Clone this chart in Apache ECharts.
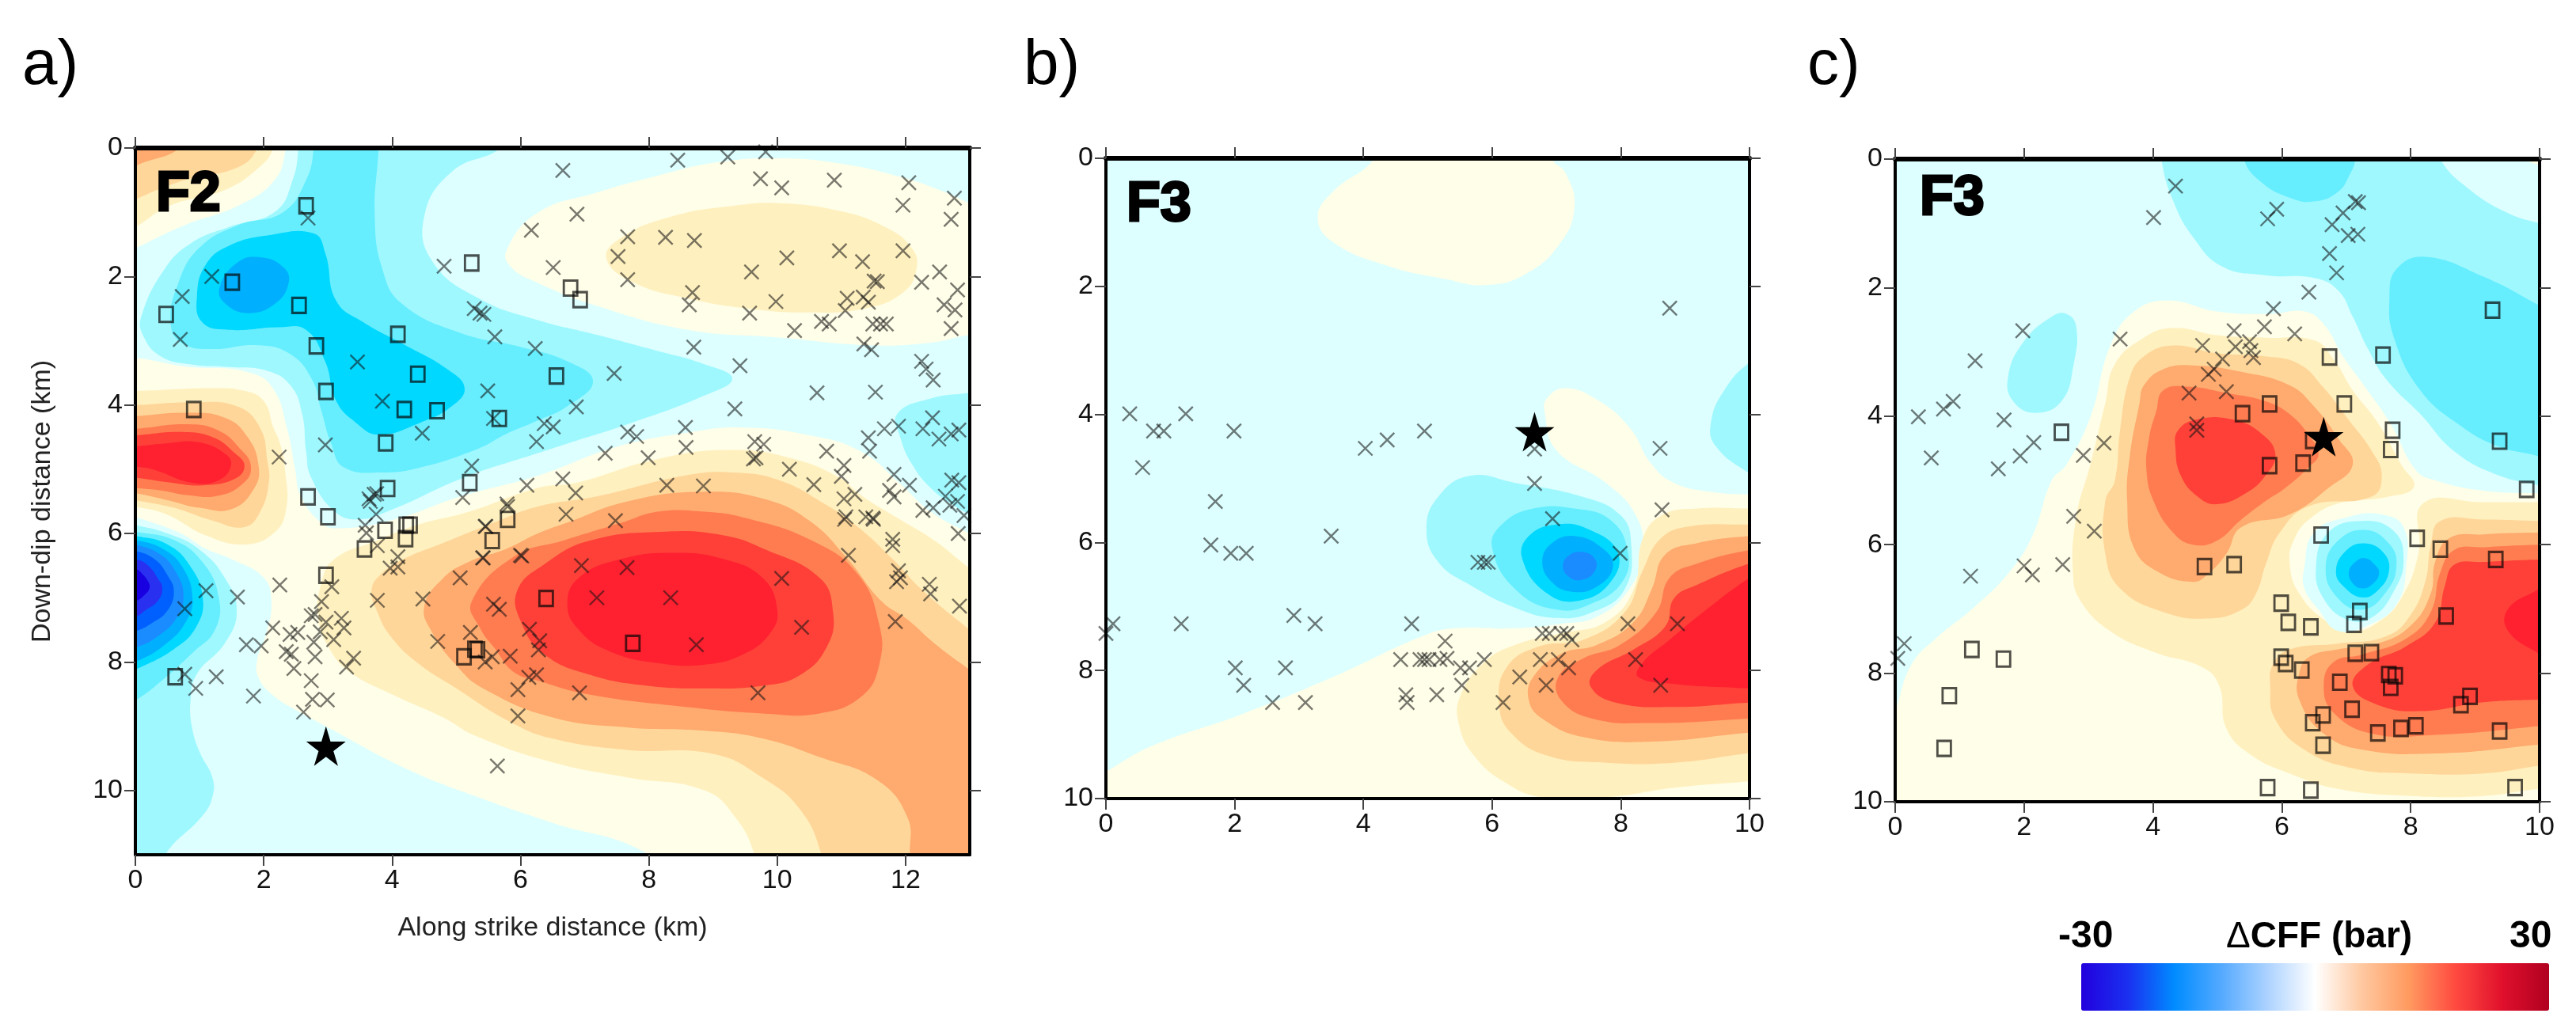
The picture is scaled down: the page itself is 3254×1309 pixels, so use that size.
<!DOCTYPE html>
<html>
<head>
<meta charset="utf-8">
<title>CFF</title>
<script src="https://cdn.jsdelivr.net/npm/echarts@6/dist/echarts.min.js"></script>
<style>
html, body { margin: 0; padding: 0; background: #fff; }
#main { width: 3254px; height: 1309px; }
</style>
</head>
<body>
<div id="main"></div>
<script>
// contour band colours, keyed by band number (negative = stress shadow)
var bandColors = {
    '-2': '#a0f8ff', '-3': '#66eeff', '-4': '#00d8ff', '-5': '#00b0ff',
    '-6': '#1a8cff', '-7': '#0060ff', '-8': '#2a30f0', '-9': '#1800e0',
    '1': '#fffee8', '2': '#fff0bf', '3': '#ffd699', '4': '#ffaa6e',
    '5': '#ff7c50', '6': '#ff4038', '7': '#ff2030'
};

// contours: [band, [[km along strike, km down dip], ...]]
var contoursA = [
    [1, [[-.4,3.45],[1,3.42],[1.8,3.5],[2.15,3.75],[2.36,4.35],[2.49,5],[2.57,5.4],[2.88,5.82],[3.15,5.92],[3.97,5.8],[5.08,5.42],[6.27,5.1],[7.5,4.65],[8.6,4.43],[9.46,4.35],[10.5,4.47],[11.3,4.72],[11.9,5.21],[12.39,5.66],[13,6],[13.4,6.2],[13.4,11.4],[8.2,11.4],[7.92,10.95],[6.49,10.5],[5.3,10.09],[4.2,9.65],[2.93,8.98],[2.49,8.74],[2.16,8.53],[1.92,8.25],[1.9,7.96],[2.04,7.55],[2.12,7.06],[2,6.69],[1.5,6.4],[1.1,6.24],[.69,5.99],[0,5.74],[-.4,5.6]]],
    [1, [[5.78,1.6],[6.25,1.02],[7.2,.69],[8.14,.43],[9.08,.22],[10.03,.16],[10.97,.24],[11.92,.45],[12.62,.69],[13,.86],[13.4,1],[13.4,2.9],[13,2.91],[12.39,3.03],[11.44,3.07],[10.03,2.95],[8.61,2.83],[7.2,2.46],[6.25,2.09],[5.85,1.85]]],
    [1, [[-.4,-.4],[2.4,-.4],[2.35,0],[2.17,.5],[1.6,.9],[.77,1.2],[0,1.56],[-.4,1.75]]],
    [2, [[-.4,-.4],[2.2,-.4],[2.15,0],[1.93,.3],[1.4,.65],[.53,.9],[0,1.23],[-.4,1.4]]],
    [3, [[-.4,-.4],[1.95,-.4],[1.9,0],[1.6,.3],[.77,.5],[0,.8],[-.4,1]]],
    [4, [[-.4,-.4],[.9,-.4],[.69,0],[.05,.26],[-.4,.5]]],
    [2, [[7.34,1.72],[7.58,1.39],[8.38,1.06],[9.32,.9],[10.03,.86],[10.97,.98],[11.68,1.23],[12.1,1.56],[12.17,1.88],[11.96,2.25],[11.35,2.5],[10.5,2.56],[9.56,2.5],[8.61,2.34],[7.76,2.09]]],
    [2, [[2.85,7.3],[2.9,6.77],[3.1,6.4],[3.77,6.11],[4.38,5.87],[5.2,5.66],[6.27,5.29],[6.87,5.21],[8.14,4.84],[9.32,4.7],[10.26,4.84],[10.97,5.13],[11.3,5.4],[11.86,5.75],[12.45,6.11],[13,6.54],[13.4,6.8],[13.4,11.4],[9.7,11.4],[9.65,11],[9.35,10.42],[8.87,10],[7.68,9.8],[6.49,9.56],[5.3,9.15],[4.79,8.86],[3.97,8.49],[3.35,8.16],[3.03,7.8]]],
    [3, [[3.68,6.89],[3.81,6.65],[4.18,6.4],[4.79,6.15],[5.61,5.82],[6.27,5.58],[7.2,5.42],[8.6,5.09],[9.32,5.05],[10.03,5.17],[10.74,5.54],[11.26,5.9],[11.8,6.4],[12.27,6.89],[13,7.5],[13.4,7.8],[13.4,11.4],[10.7,11.4],[10.69,11],[10.36,10.3],[9.77,9.8],[9,9.43],[7.68,9.37],[6.49,9.19],[5.82,8.92],[5,8.41],[4.38,8],[3.97,7.59],[3.77,7.22]]],
    [4, [[4.5,7.14],[4.79,6.7],[5.2,6.44],[5.78,6.24],[6.27,6],[6.73,5.83],[7.67,5.5],[8.85,5.35],[9.79,5.46],[10.5,5.8],[11.1,6.4],[11.62,7.05],[12.03,7.34],[12.45,7.71],[13,8.12],[13.4,8.4],[13.4,11.4],[12.1,11.4],[12.07,11],[12.03,10.42],[11.56,9.84],[10.66,9.48],[9.77,9.19],[8.87,9.07],[7.68,9.02],[6.49,8.86],[5.4,8.4],[5,8.05],[4.63,7.55]]],
    [5, [[5.24,7.06],[5.37,7.47],[5.61,7.8],[5.89,8.15],[6.27,8.29],[7.09,8.51],[8.58,8.7],[9.77,8.8],[10.66,8.8],[11.32,8.53],[11.59,8.04],[11.59,7.42],[11.26,6.64],[10.54,6.11],[9.47,5.75],[8.85,5.66],[8.14,5.66],[7.58,5.83],[6.7,6.1],[5.9,6.36]]],
    [6, [[5.95,6.89],[6.37,6.48],[7.08,6.11],[8.28,5.97],[9.17,6.03],[9.77,6.23],[10.66,6.69],[10.87,7.22],[10.78,7.75],[10.36,8.2],[9.77,8.37],[8.87,8.41],[7.98,8.37],[7.09,8.2],[6.37,7.88],[6.01,7.38]]],
    [7, [[6.73,7.1],[6.91,6.69],[7.56,6.4],[8.4,6.3],[9.17,6.4],[9.77,6.69],[10,7.18],[9.89,7.55],[9.47,7.88],[8.87,8.04],[8.16,8.02],[7.38,7.83],[6.91,7.5]]],
    [2, [[-.4,3.75],[0,3.78],[1.16,3.74],[1.7,3.78],[2,3.94],[2.15,4.35],[2.25,4.59],[2.33,5],[2.35,5.62],[2.16,5.99],[1.71,6.17],[1.1,6.03],[.48,5.7],[0,5.58],[-.4,5.5]]],
    [3, [[-.4,4],[0,4],[.87,3.96],[1.58,4.02],[1.94,4.35],[2.06,4.89],[2.08,5.2],[1.95,5.65],[1.7,5.9],[1.2,5.8],[.6,5.6],[0,5.48],[-.4,5.4]]],
    [4, [[-.4,4.17],[0,4.17],[.8,4.12],[1.4,4.2],[1.75,4.5],[1.92,4.95],[1.85,5.3],[1.5,5.62],[1,5.6],[.5,5.48],[0,5.37],[-.4,5.3]]],
    [5, [[-.4,4.37],[0,4.37],[.8,4.3],[1.3,4.4],[1.65,4.7],[1.8,4.95],[1.7,5.2],[1.3,5.41],[.8,5.4],[.4,5.33],[0,5.29],[-.4,5.25]]],
    [6, [[-.4,4.47],[0,4.47],[.7,4.42],[1.2,4.5],[1.55,4.75],[1.7,4.95],[1.55,5.15],[1.05,5.25],[.5,5.2],[0,5.13],[-.4,5.1]]],
    [7, [[-.4,4.64],[0,4.64],[.45,4.6],[.98,4.58],[1.4,4.76],[1.49,4.94],[1.3,5.17],[.89,5.21],[.27,5],[0,4.96],[-.4,4.93]]],
    [-2, [[2.54,-.4],[2.54,0],[2.45,.5],[2.18,.99],[1.46,1.23],[.87,1.48],[.45,1.89],[.09,2.63],[.12,2.92],[.39,3.24],[.87,3.37],[1.46,3.41],[2.06,3.47],[2.42,3.7],[2.6,4.15],[2.66,4.72],[2.74,5.13],[3.11,5.66],[3.48,5.78],[3.97,5.64],[5.12,5.13],[6.27,4.75],[6.73,4.6],[7.67,4.3],[8.85,3.86],[9.3,3.59],[8.85,3.36],[8.14,3.16],[7.2,2.91],[6.24,2.67],[5.35,2.34],[4.63,1.77],[4.5,1.07],[4.93,.37],[5.7,0],[6,-.4]]],
    [-2, [[13.4,3.75],[13,3.81],[12.39,3.9],[11.87,4.14],[11.92,4.51],[12.1,4.92],[12.39,5.29],[12.72,5.54],[13,5.7],[13.4,5.85]]],
    [-2, [[-.4,5.8],[0,5.87],[.5,6],[1,6.25],[1.4,6.7],[1.58,7.2],[1.4,7.7],[.95,8.2],[.86,8.6],[.88,9],[1,9.4],[1.2,9.8],[1.2,10.1],[1.04,10.4],[.49,10.96],[.3,11.4],[-.4,11.4]]],
    [-3, [[2.78,-.4],[2.78,0],[2.66,.5],[2.3,1],[1.6,1.2],[1,1.55],[.67,2.1],[.55,2.75],[.75,3.05],[1.2,3.13],[1.9,3.07],[2.4,3.2],[2.75,3.6],[2.9,4.1],[3.05,4.6],[3.25,4.97],[3.85,5.05],[4.45,4.97],[5.34,4.68],[5.78,4.45],[6.25,4.25],[6.73,4.02],[7.13,3.63],[6.73,3.32],[6.02,3.1],[5.04,2.87],[4.15,2.42],[3.85,1.89],[3.73,1.07],[3.79,0],[3.8,-.4]]],
    [-4, [[.96,2.3],[1.04,2.71],[1.46,2.83],[2.24,2.79],[2.66,2.83],[2.96,3.33],[3.13,3.94],[3.43,4.27],[3.79,4.46],[4.45,4.27],[4.93,4.02],[5.13,3.74],[4.87,3.45],[4.15,3.04],[3.55,2.71],[3.13,2.38],[2.96,1.64],[2.78,1.33],[2.06,1.36],[1.46,1.52],[1.1,1.81]]],
    [-5, [[1.31,2.18],[1.4,2.42],[1.76,2.57],[2.18,2.42],[2.39,2.09],[2.3,1.85],[1.94,1.7],[1.58,1.79]]],
    [-3, [[-.4,5.9],[0,5.97],[.6,6.1],[1.05,6.45],[1.3,7],[1.24,7.5],[.9,7.85],[.4,8.3],[0,8.6],[-.4,8.8]]],
    [-4, [[-.4,6],[0,6.04],[.5,6.17],[.85,6.5],[1.05,7],[.95,7.45],[.6,7.8],[0,8.12],[-.4,8.3]]],
    [-5, [[-.4,6.05],[0,6.1],[.45,6.25],[.75,6.55],[.89,7],[.8,7.35],[.5,7.7],[0,8],[-.4,8.1]]],
    [-6, [[-.4,6.1],[0,6.17],[.4,6.33],[.63,6.6],[.75,6.95],[.65,7.3],[.35,7.6],[0,7.78],[-.4,7.9]]],
    [-7, [[-.4,6.2],[0,6.27],[.3,6.4],[.5,6.65],[.6,6.9],[.5,7.2],[.25,7.4],[0,7.52],[-.4,7.6]]],
    [-8, [[-.4,6.35],[0,6.4],[.2,6.5],[.35,6.7],[.42,6.85],[.35,7.05],[.15,7.2],[0,7.3],[-.4,7.4]]],
    [-9, [[-.4,6.5],[0,6.55],[.1,6.62],[.2,6.75],[.22,6.85],[.15,6.95],[0,7.05],[-.4,7.1]]]
];

var contoursB = [
    [1, [[4.17,-.4],[4.17,0],[3.53,.52],[3.29,.92],[3.53,1.31],[4.38,1.68],[5.3,1.89],[5.87,1.98],[6.5,1.82],[7.07,1.31],[7.28,.74],[7.14,.23],[6.93,0],[6.9,-.4]]],
    [1, [[-.4,9.8],[0,9.58],[.71,9.18],[2.12,8.68],[3.53,8.1],[4.95,7.45],[5.44,7.34],[6.36,7.34],[7.07,7.27],[7.63,7.16],[8.13,6.73],[8.34,6.15],[8.23,5.57],[7.77,5.07],[7,4.56],[6.82,3.99],[6.85,3.75],[7.14,3.59],[7.63,3.77],[8.13,4.2],[8.48,4.78],[8.83,5.07],[9.4,5.21],[10,5.25],[10.4,5.25],[10.4,10.4],[-.4,10.4]]],
    [2, [[10.4,5.47],[10,5.47],[9.19,5.47],[8.65,5.57],[8.34,5.94],[8.2,6.73],[7.77,7.24],[7.07,7.42],[6.36,7.6],[5.87,7.88],[5.51,8.39],[5.48,8.82],[5.72,9.33],[6.22,9.76],[6.78,9.98],[7.77,9.98],[8.83,9.83],[10,9.73],[10.4,9.7]]],
    [3, [[10.4,5.72],[10,5.72],[9.05,5.75],[8.62,5.94],[8.34,6.44],[8.06,7.09],[7.42,7.52],[6.71,7.63],[6.22,7.96],[6.11,8.53],[6.29,8.97],[6.86,9.33],[7.77,9.44],[8.83,9.44],[10,9.29],[10.4,9.25]]],
    [4, [[10.4,5.9],[10,5.9],[9.19,6.01],[8.69,6.19],[8.48,6.73],[8.2,7.24],[7.63,7.6],[7.07,7.74],[6.64,8.1],[6.57,8.46],[6.78,8.75],[7.42,9.04],[8.48,9.11],[10,8.97],[10.4,8.95]]],
    [5, [[10.4,6.1],[10,6.12],[9.19,6.33],[8.76,6.55],[8.55,7.09],[7.99,7.6],[7.42,7.81],[7.03,8.1],[7.07,8.46],[7.56,8.75],[8.48,8.82],[10,8.75],[10.4,8.73]]],
    [6, [[10.4,6.25],[10,6.33],[9.19,6.66],[8.83,6.87],[8.69,7.31],[8.2,7.67],[7.63,7.99],[7.53,8.25],[7.92,8.5],[8.83,8.57],[10,8.5],[10.4,8.5]]],
    [7, [[10.4,6.35],[10,6.55],[9.19,7.16],[8.76,7.52],[8.34,7.88],[8.27,8.1],[8.83,8.21],[10,8.28],[10.4,8.3]]],
    [-2, [[10.4,3],[10,3.19],[9.61,3.62],[9.4,4.13],[9.47,4.49],[10,4.92],[10.4,5.1]]],
    [-2, [[4.98,5.79],[5.16,5.29],[5.65,4.96],[6.36,5.07],[7.42,5.29],[7.99,5.57],[8.16,6],[8.06,6.73],[7.56,7.09],[7,7.18],[6.36,7.02],[5.65,6.66],[5.16,6.3]]],
    [-3, [[6,6.08],[6.15,5.72],[6.64,5.47],[7.28,5.47],[7.84,5.65],[8.11,6.15],[8.02,6.62],[7.56,6.95],[7,7.05],[6.36,6.73]]],
    [-4, [[6.47,6.26],[6.57,5.9],[7,5.72],[7.49,5.79],[7.95,6.15],[7.84,6.62],[7.35,6.91],[6.86,6.8]]],
    [-5, [[6.78,6.3],[6.93,6.01],[7.28,5.9],[7.7,6.08],[7.88,6.37],[7.63,6.69],[7.24,6.77],[6.93,6.62]]],
    [-6, [[7.1,6.37],[7.21,6.19],[7.42,6.15],[7.6,6.26],[7.6,6.44],[7.42,6.58],[7.21,6.55]]]
];

var contoursC = [
    [1, [[9.7,-.4],[9.81,0],[10,.1],[10.4,.3],[10.4,-.4]]],
    [1, [[4.24,2.2],[4.99,2.37],[5.82,2.41],[6.35,2.37],[6.65,2.57],[6.95,3.07],[7.33,3.6],[7.7,4.14],[8.08,4.84],[8.38,5],[9.13,5.16],[10,5.2],[10.4,5.2],[10.4,10.4],[-.4,10.4],[-.4,8.8],[0,8.6],[.02,8.53],[.25,7.87],[.63,7.46],[1.23,6.97],[1.77,6.43],[2.13,5.86],[2.43,5],[2.66,4.75],[3.03,4.01],[3.34,2.9],[3.71,2.37]]],
    [2, [[3.86,2.78],[4.31,2.63],[4.99,2.74],[5.75,2.78],[6.5,2.82],[6.8,3.11],[7.1,3.6],[7.48,4.09],[7.85,4.75],[8.05,5.1],[7.63,5.26],[6.87,5.36],[6.42,5.61],[6.2,5.9],[6.12,6.27],[6.27,6.76],[6.72,7.21],[7.1,7.35],[7.5,7.2],[7.85,6.84],[8.12,6.14],[8.19,5.36],[9.13,5.34],[10,5.34],[10.4,5.34],[10.4,9.8],[10,9.8],[9.13,9.91],[8,9.91],[6.87,9.8],[6.12,9.56],[5.52,9.27],[5.14,8.86],[5.03,8.2],[4.77,7.91],[4.01,7.67],[3.33,7.34],[2.88,6.88],[2.76,6.47],[2.81,5.57],[3.03,4.75],[3.26,3.8],[3.41,3.19]]],
    [3, [[3.86,3.07],[4.31,2.9],[4.99,3.02],[5.75,3.07],[6.27,3.19],[6.65,3.56],[7.03,4.05],[7.4,4.55],[7.55,4.92],[7.4,5.25],[6.42,5.4],[5.97,5.81],[5.75,6.31],[5.6,6.76],[5.38,7.01],[4.85,7.15],[4.17,7.05],[3.49,6.68],[3.26,6.14],[3.26,5.32],[3.41,5],[3.49,4.22],[3.64,3.4]]],
    [4, [[4.16,3.27],[4.62,3.21],[5.37,3.31],[6.12,3.52],[6.5,3.85],[6.87,4.34],[7.1,4.75],[6.72,5.12],[6.12,5.53],[5.37,5.73],[5.14,6.14],[4.84,6.47],[4.62,6.58],[4.09,6.43],[3.71,6.06],[3.6,5.32],[3.64,4.63],[3.79,3.81],[3.86,3.52]]],
    [5, [[4.05,3.93],[4.16,3.6],[4.54,3.54],[5.14,3.64],[5.75,3.77],[6.12,3.97],[6.42,4.3],[6.57,4.59],[6.42,4.79],[6.05,5.12],[5.75,5.32],[5.37,5.61],[4.99,5.94],[4.62,6],[4.31,5.81],[4.01,5.32],[3.9,4.84],[3.94,4.34]]],
    [6, [[4.39,4.22],[4.69,4.05],[5.22,4.05],[5.67,4.26],[5.9,4.59],[5.75,4.92],[5.44,5.2],[4.99,5.37],[4.69,5.25],[4.43,4.92],[4.35,4.5]]],
    [3, [[10.4,5.63],[10,5.63],[9.13,5.61],[8.46,5.63],[8.31,6.02],[8.23,6.56],[8,7.09],[7.63,7.42],[6.87,7.54],[6.12,7.63],[5.86,7.87],[5.82,8.2],[5.89,8.7],[6.35,9.19],[7.1,9.48],[8,9.56],[9.13,9.56],[10,9.44],[10.4,9.4]]],
    [4, [[10.4,5.81],[10,5.81],[9.13,5.84],[8.6,5.9],[8.38,6.27],[8.31,6.76],[8,7.26],[7.48,7.54],[6.87,7.63],[6.42,7.75],[6.27,8],[6.27,8.41],[6.65,8.94],[7.25,9.19],[8.38,9.25],[10,9.11],[10.4,9.05]]],
    [5, [[10.4,6],[10,6],[9.13,6.04],[8.68,6.08],[8.46,6.43],[8.31,7.05],[7.93,7.46],[7.25,7.71],[6.8,7.83],[6.65,8.2],[6.8,8.61],[7.4,8.94],[8.38,8.96],[10,8.82],[10.4,8.75]]],
    [6, [[10.4,6.23],[10,6.23],[9.13,6.27],[8.68,6.31],[8.53,6.64],[8.38,7.21],[7.93,7.58],[7.33,7.87],[7.1,8.2],[7.48,8.49],[8.15,8.59],[9.13,8.45],[10,8.41],[10.4,8.4]]],
    [7, [[10.4,6.4],[10,6.68],[9.51,7],[9.51,7.34],[10,7.7],[10.4,7.9]]],
    [-1, [[6.35,6.35],[6.5,5.81],[7.03,5.57],[7.55,5.53],[7.89,5.73],[7.93,6.35],[7.78,6.93],[7.33,7.26],[6.87,7.34],[6.57,7.01],[6.35,6.68]]],
    [-2, [[4.13,-.4],[4.13,0],[4.31,.64],[4.62,1.21],[5.07,1.67],[5.75,1.81],[6.5,1.85],[6.87,2.04],[7.1,2.45],[7.33,2.94],[7.63,3.44],[8.15,3.97],[8.68,4.55],[9.36,4.92],[10,5.08],[10.4,5.2],[10.4,1.1],[10,1],[9.51,.84],[8.91,.47],[8.46,0],[8.4,-.4]]],
    [-2, [[2.66,2.41],[2.43,2.45],[1.98,2.86],[1.75,3.4],[1.83,3.77],[2.17,3.95],[2.58,3.77],[2.77,3.19],[2.81,2.61]]],
    [-2, [[6.53,6.35],[6.72,5.81],[7.25,5.63],[7.74,5.79],[7.89,6.23],[7.74,6.72],[7.4,7.13],[7.03,7.17],[6.65,6.84]]],
    [-3, [[5.41,-.4],[5.41,0],[5.67,.35],[6.12,.6],[6.5,.66],[6.87,.51],[7.06,.23],[7.14,0],[7.14,-.4]]],
    [-3, [[8.23,1.52],[7.78,1.71],[7.67,2.16],[7.74,2.78],[8.15,3.6],[8.76,4.14],[9.36,4.47],[10,4.63],[10.4,4.8],[10.4,2.5],[10,2.28],[9.13,1.83]]],
    [-3, [[6.68,6.35],[6.87,5.94],[7.29,5.77],[7.66,5.98],[7.78,6.31],[7.63,6.72],[7.25,7.01],[6.84,6.8]]],
    [-4, [[6.84,6.43],[6.99,6.1],[7.29,5.98],[7.59,6.14],[7.66,6.43],[7.48,6.72],[7.25,6.82],[6.99,6.68]]],
    [-5, [[7.04,6.43],[7.14,6.27],[7.29,6.21],[7.44,6.31],[7.51,6.45],[7.4,6.62],[7.25,6.68],[7.1,6.6]]]
];

// aftershock positions, [km along strike, km down dip]
var crossesA = [[6.66,.35],[8.45,.19],[9.23,.14],[9.82,.06],[9.74,.48],[10.07,.62],[10.89,.5],[12.05,.54],[12.76,.78],[11.96,.89],[12.71,1.11],[6.88,1.03],[6.17,1.28],[7.67,1.38],[8.26,1.39],[8.71,1.44],[7.52,1.69],[6.51,1.86],[7.67,2.05],[10.15,1.71],[10.97,1.6],[11.33,1.77],[11.96,1.6],[9.6,1.93],[12.53,1.93],[12.25,2.09],[11.51,2.07],[11.56,2.08],[12.81,2.21],[8.68,2.25],[8.63,2.44],[9.98,2.39],[11.09,2.34],[11.34,2.32],[11.42,2.4],[11.06,2.53],[9.57,2.57],[10.69,2.7],[10.81,2.74],[10.27,2.84],[11.49,2.74],[11.61,2.74],[11.7,2.74],[12.6,2.44],[12.77,2.52],[12.71,2.81],[11.35,3.05],[11.47,3.14],[8.7,3.1],[6.23,3.12],[9.42,3.39],[12.25,3.32],[12.32,3.44],[12.43,3.61],[7.46,3.51],[10.62,3.81],[11.53,3.8],[6.87,4.03],[9.34,4.06],[6.37,4.29],[6.51,4.34],[6.25,4.57],[8.57,4.35],[7.67,4.42],[7.81,4.49],[7.32,4.75],[7.99,4.82],[8.58,4.66],[9.65,4.57],[9.79,4.61],[9.67,4.82],[9.63,4.84],[10.77,4.72],[10.19,5],[10.57,5.24],[11.04,4.94],[11,5.11],[11.21,5.39],[11.04,5.46],[11.42,4.51],[11.44,4.72],[11.67,4.37],[11.89,4.33],[12.27,4.37],[12.42,4.2],[12.52,4.53],[12.71,4.45],[12.83,4.39],[11.82,5.08],[12.06,5.25],[11.75,5.33],[11.82,5.43],[12.62,5.42],[12.72,5.17],[12.83,5.21],[12.27,5.64],[12.43,5.6],[12.69,5.56],[12.81,5.5],[12.91,5.72],[11.07,5.74],[11.49,5.76],[6.1,5.25],[6.66,5.15],[6.86,5.37],[8.28,5.25],[8.85,5.26],[6.71,5.7],[7.48,5.8],[5.46,5.89],[6.02,6.35],[5.42,6.38],[6.95,6.5],[7.66,6.53],[7.19,7],[8.34,7],[10.07,6.7],[10.38,7.46],[8.74,7.73],[5.58,7.1],[5.67,7.18],[6.14,7.49],[6.3,7.67],[6.28,7.81],[5.84,7.91],[5.56,7.92],[5.45,8],[6.13,8.24],[6.25,8.2],[5.96,8.43],[6.92,8.48],[9.7,8.48],[5.96,8.84],[5.64,9.62],[11.05,5.78],[11.38,5.74],[11.5,5.78],[11.11,6.34],[11.8,6.09],[11.8,6.19],[11.89,6.58],[11.92,6.69],[11.86,6.75],[12.37,6.79],[12.39,6.94],[12.84,7.13],[11.84,7.37],[12.82,6],[2.69,1.09],[1.19,2],[.73,2.31],[.7,2.98],[3.46,3.33],[3.85,3.94],[2.96,4.62],[2.24,4.81],[4.47,4.44],[5.49,3.78],[5.58,4.21],[4.81,1.84],[5.28,2.5],[5.37,2.57],[5.43,2.59],[5.6,2.94],[5.24,4.95],[5.1,5.44],[3.64,5.46],[5.79,5.54],[3.76,5.38],[3.72,5.39],[3.66,5.5],[3.75,5.7],[3.58,5.87],[3.6,5.99],[3.77,6.19],[5.8,5.58],[5.45,5.89],[5.41,6.38],[6,6.34],[5.06,6.69],[4.09,6.36],[3.97,6.54],[4.09,6.52],[3.06,6.83],[2.9,7.06],[2.25,6.8],[1.1,6.89],[1.59,6.99],[.77,7.17],[3.77,7.04],[4.48,7.02],[5.22,7.54],[4.71,7.68],[2.8,7.26],[2.74,7.28],[2.97,7.38],[3.21,7.32],[3.25,7.47],[2.14,7.47],[2.41,7.57],[2.53,7.54],[1.73,7.73],[1.96,7.75],[2.78,7.69],[2.88,7.53],[3.09,7.65],[2.35,7.84],[2.43,7.88],[2.8,7.92],[2.47,8.1],[3.4,7.94],[3.29,8.08],[2.74,8.29],[2.76,8.58],[2.99,8.59],[2.62,8.78],[1.84,8.53],[1.26,8.23],[.94,8.41],[.77,8.19]];
var squaresA = [[6.78,2.18],[6.93,2.36],[6.56,3.55],[5.8,5.78],[5.56,6.11],[6.4,7.01],[7.75,7.71],[5.33,7.81],[2.66,.9],[1.51,2.09],[.48,2.59],[2.55,2.45],[5.24,1.79],[4.09,2.9],[2.82,3.08],[4.4,3.52],[2.97,3.79],[4.19,4.07],[4.7,4.09],[5.67,4.21],[.91,4.07],[3.9,4.59],[3.93,5.3],[5.21,5.21],[2.69,5.43],[3,5.74],[3.89,5.95],[4.22,5.87],[4.28,5.87],[4.21,6.08],[3.57,6.24],[2.97,6.65],[.62,8.23],[5.12,7.92],[5.29,7.8]];
var starA = [[2.97,9.31]];

var crossesB = [[8.76,2.34],[.37,3.99],[1.24,3.99],[.74,4.26],[.9,4.26],[1.99,4.26],[.57,4.83],[1.7,5.36],[1.63,6.04],[1.94,6.17],[2.18,6.17],[3.5,5.9],[4.03,4.53],[4.37,4.4],[4.95,4.26],[6.66,4.54],[6.66,5.08],[6.94,5.63],[8.61,4.53],[8.64,5.49],[7.99,6.17],[5.78,6.31],[5.88,6.31],[5.94,6.31],[.11,7.27],[0,7.42],[1.17,7.27],[2.92,7.14],[3.25,7.27],[4.75,7.27],[8.11,7.27],[8.88,7.27],[6.78,7.42],[6.89,7.42],[7.07,7.42],[7.16,7.42],[7.24,7.52],[5.27,7.54],[4.58,7.83],[4.88,7.83],[4.95,7.83],[5.02,7.83],[5.19,7.83],[5.3,7.81],[5.51,7.96],[5.65,7.96],[5.88,7.83],[6.75,7.83],[7.03,7.83],[7.19,7.96],[8.23,7.83],[2.01,7.96],[2.79,7.96],[2.14,8.23],[5.53,8.23],[6.43,8.1],[6.84,8.23],[8.62,8.23],[4.66,8.38],[5.14,8.38],[4.68,8.5],[2.59,8.5],[3.1,8.5],[6.17,8.5]];
var starB = [[6.66,4.27]];

var crossesC = [[4.35,.42],[4.01,.91],[5.92,.78],[5.78,.93],[7.19,.68],[7.14,.66],[6.95,.84],[6.78,1.02],[7.03,1.19],[7.18,1.17],[6.74,1.47],[6.85,1.77],[6.42,2.07],[5.87,2.33],[1.98,2.67],[3.49,2.8],[5.26,2.67],[5.73,2.61],[6.2,2.72],[5.5,2.84],[4.77,2.9],[5.28,2.92],[5.52,2.98],[1.24,3.14],[5.08,3.11],[5.56,3.09],[4.95,3.27],[4.86,3.35],[4.56,3.64],[5.14,3.62],[4.68,4.12],[4.68,4.22],[.9,3.77],[.75,3.89],[.36,4.01],[1.69,4.06],[2.15,4.41],[1.94,4.62],[.56,4.65],[1.6,4.82],[3.24,4.42],[2.92,4.61],[2.77,5.56],[3.09,5.79],[1.17,6.49],[2,6.33],[2.13,6.47],[2.6,6.31],[.14,7.54],[.04,7.77]];
var squaresC = [[6.74,3.08],[7.57,3.05],[9.27,2.35],[6.97,3.81],[5.81,3.81],[5.39,3.96],[7.72,4.22],[7.69,4.52],[9.38,4.39],[2.58,4.25],[6.48,4.38],[5.81,4.77],[6.33,4.73],[9.8,5.14],[4.8,6.34],[5.26,6.31],[6.61,5.85],[8.1,5.9],[8.46,6.07],[9.32,6.23],[5.99,6.91],[7.21,7.04],[8.55,7.11],[6.1,7.21],[6.45,7.28],[7.12,7.24],[5.99,7.75],[6.06,7.85],[6.31,7.95],[7.14,7.69],[7.39,7.68],[6.9,8.14],[7.66,8.02],[7.76,8.04],[7.69,8.22],[8.92,8.36],[8.78,8.49],[7.09,8.56],[6.64,8.65],[6.48,8.77],[7.49,8.93],[7.85,8.86],[8.08,8.82],[9.38,8.9],[6.64,9.12],[1.19,7.63],[1.68,7.78],[.84,8.35],[.76,9.17],[5.78,9.78],[6.45,9.82],[9.62,9.78]];
var starC = [[6.65,4.32]];

var xTicksA = [0,2,4,6,8,10,12];
var yTicksA = [0,2,4,6,8,10];
var ticksBC = [0,2,4,6,8,10];
var legendColors = ['#2200dd','#1a30f0','#008cff','#55aaff','#aed3ff','#ffffff','#ffc8a0','#ff9a60','#ff4a40','#e0102c','#b00020'];

var dom = document.getElementById('main');
var myChart = echarts.init(dom);

var FONT = '"Liberation Sans", Arial, sans-serif';
var CROSS = 'path://M0,0L10,10M10,0L0,10';
var STAR = 'path://M50,0L61,35L98,35L68,57L79,91L50,70L21,91L32,57L2,35L39,35Z';

var panels = [
    {left: 171, top: 187, width: 1054, height: 893, xMax: 13, yMax: 11, xTicks: xTicksA, yTicks: yTicksA, contours: contoursA, crosses: crossesA, squares: squaresA, star: starA},
    {left: 1397, top: 200, width: 813, height: 809, xMax: 10, yMax: 10, xTicks: ticksBC, yTicks: ticksBC, contours: contoursB, crosses: crossesB, squares: [], star: starB},
    {left: 2394, top: 201, width: 814, height: 812, xMax: 10, yMax: 10, xTicks: ticksBC, yTicks: ticksBC, contours: contoursC, crosses: crossesC, squares: squaresC, star: starC}
];

var grids = [], xAxes = [], yAxes = [], series = [];

panels.forEach(function (p, i) {
    grids.push({
        left: p.left, top: p.top, width: p.width, height: p.height,
        show: true, backgroundColor: '#ddffff', borderWidth: 0
    });
    function axis(extra, ticks, max, labelled, lineWidth) {
        return Object.assign({
            type: 'value', gridIndex: i, min: 0, max: max, z: 6,
            splitLine: {show: false},
            axisLine: {show: true, onZero: false, lineStyle: {color: '#000', width: lineWidth}},
            axisTick: {show: true, customValues: ticks, length: 14, lineStyle: {color: '#444', width: 2}},
            axisLabel: {show: labelled, customValues: ticks, margin: 16, fontFamily: FONT, fontSize: 34, color: '#111'}
        }, extra);
    }
    xAxes.push(axis({position: 'bottom'}, p.xTicks, p.xMax, true, 4));
    xAxes.push(axis({position: 'top'}, p.xTicks, p.xMax, false, 6));
    yAxes.push(axis({position: 'left', inverse: true}, p.yTicks, p.yMax, true, 4));
    yAxes.push(axis({position: 'right', inverse: true}, p.yTicks, p.yMax, false, 4));

    var xIdx = i * 2, yIdx = i * 2;
    series.push({
        type: 'custom',
        xAxisIndex: xIdx, yAxisIndex: yIdx,
        clip: true, silent: true, z: 2,
        data: p.contours.map(function (c, k) { return [k, c[0]]; }),
        renderItem: function (params, api) {
            var band = p.contours[api.value(0)];
            return {
                type: 'polygon',
                shape: {
                    points: band[1].map(function (pt) { return api.coord(pt); }),
                    smooth: 0.45
                },
                style: {fill: band[0] === -1 ? '#ddffff' : bandColors[band[0]]}
            };
        }
    });
    series.push({
        type: 'scatter', xAxisIndex: xIdx, yAxisIndex: yIdx, z: 3, silent: true,
        symbol: CROSS, symbolSize: 18, data: p.crosses,
        itemStyle: {color: 'transparent', borderColor: 'rgba(20,20,20,0.72)', borderWidth: 2.4}
    });
    if (p.squares.length) {
        series.push({
            type: 'scatter', xAxisIndex: xIdx, yAxisIndex: yIdx, z: 3, silent: true,
            symbol: 'rect', symbolSize: [17, 19], data: p.squares,
            itemStyle: {color: 'transparent', borderColor: 'rgba(5,5,5,0.88)', borderWidth: 3}
        });
    }
    series.push({
        type: 'scatter', xAxisIndex: xIdx, yAxisIndex: yIdx, z: 4, silent: true,
        symbol: STAR, symbolSize: 50, data: p.star,
        itemStyle: {color: '#000', opacity: 1}
    });
});

// axis names only on panel a
xAxes[0].name = 'Along strike distance (km)';
xAxes[0].nameLocation = 'middle';
xAxes[0].nameGap = 76;
xAxes[0].nameTextStyle = {fontFamily: FONT, fontSize: 34, color: '#222'};
yAxes[0].name = 'Down-dip distance (km)';
yAxes[0].nameLocation = 'middle';
yAxes[0].nameGap = 100;
yAxes[0].nameTextStyle = {fontFamily: FONT, fontSize: 34, color: '#222'};

function label(text, x, y, size, weight) {
    return {
        type: 'text', x: x, y: y, z: 20,
        style: {text: text, fontFamily: FONT, fontSize: size, fontWeight: weight, fill: '#000', textVerticalAlign: 'middle'}
    };
}

var option = {
    animation: false,
    backgroundColor: '#fff',
    grid: grids,
    xAxis: xAxes,
    yAxis: yAxes,
    visualMap: {
        type: 'continuous', seriesIndex: [], min: -30, max: 30,
        orient: 'horizontal', left: 2629, top: 1217, padding: 0, itemWidth: 60, itemHeight: 591,
        text: null, calculable: false, realtime: false, hoverLink: false,
        inRange: {color: legendColors},
        textStyle: {fontSize: 0, color: 'transparent'}
    },
    series: series,
    graphic: [
        label('a)', 28, 84, 80, 'normal'),
        label('b)', 1293, 84, 80, 'normal'),
        label('c)', 2283, 84, 80, 'normal'),
        {
            type: 'text', x: 197, y: 247, z: 20,
            style: {text: 'F2', fontFamily: FONT, fontSize: 70, fontWeight: 'bold', fill: '#000', stroke: '#000', lineWidth: 3, textVerticalAlign: 'middle'}
        },
        {
            type: 'text', x: 1423, y: 260, z: 20,
            style: {text: 'F3', fontFamily: FONT, fontSize: 70, fontWeight: 'bold', fill: '#000', stroke: '#000', lineWidth: 3, textVerticalAlign: 'middle'}
        },
        {
            type: 'text', x: 2425, y: 252, z: 20,
            style: {text: 'F3', fontFamily: FONT, fontSize: 70, fontWeight: 'bold', fill: '#000', stroke: '#000', lineWidth: 3, textVerticalAlign: 'middle'}
        },
        label('-30', 2600, 1184, 48, 'bold'),
        label('30', 3170, 1184, 48, 'bold'),
        {
            type: 'text', x: 2812, y: 1184, z: 20,
            style: {
                text: '{d|Δ}CFF (bar)',
                fontFamily: FONT, fontSize: 46, fontWeight: 'bold', fill: '#000',
                textVerticalAlign: 'middle',
                rich: {d: {fontFamily: FONT, fontSize: 46, fontWeight: 'normal', fill: '#000'}}
            }
        }
    ]
};

if (option && typeof option === 'object') {
    myChart.setOption(option, true);
}
</script>
</body>
</html>
